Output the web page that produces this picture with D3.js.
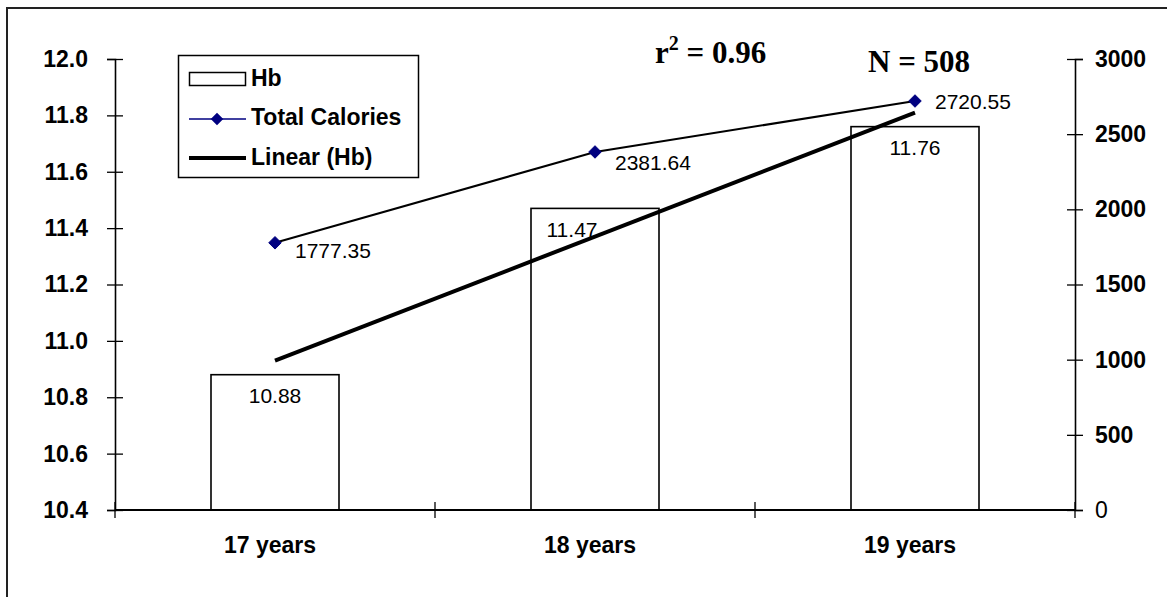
<!DOCTYPE html>
<html>
<head>
<meta charset="utf-8">
<script src="https://cdn.jsdelivr.net/npm/d3@7"></script>
<style>
  html, body { margin: 0; padding: 0; background: #fff; }
  svg { display: block; }
  text { font-family: "Liberation Sans", Arial, sans-serif; fill: #000; }
</style>
</head>
<body>
<svg id="chart" width="1167" height="597"></svg>
<script>
// Age groups and the two measured series
const categories = ["17 years", "18 years", "19 years"];
const hbValues = [10.88, 11.47, 11.76];
const calorieValues = [1777.35, 2381.64, 2720.55];

// Axis tick values and their labels
const hbTicks = [10.4, 10.6, 10.8, 11.0, 11.2, 11.4, 11.6, 11.8, 12.0];
const calTicks = [0, 500, 1000, 1500, 2000, 2500, 3000];

// Legend entries and annotations
const legendLabels = ["Hb", "Total Calories", "Linear (Hb)"];
const rSquaredText = "0.96";
const sampleSizeText = "N = 508";

const svg = d3.select("#chart");

// outer frame
svg.append("rect")
  .attr("x", 7).attr("y", 8).attr("width", 1180).attr("height", 620)
  .attr("fill", "none").attr("stroke", "#222").attr("stroke-width", 2);

const plot = { left: 115, right: 1075, top: 59, bottom: 510 };

const x = d3.scaleBand().domain(categories).range([plot.left, plot.right]);
const yHb = d3.scaleLinear().domain([10.4, 12.0]).range([plot.bottom, plot.top]);
const yCal = d3.scaleLinear().domain([0, 3000]).range([plot.bottom, plot.top]);
const barW = x.bandwidth() * 0.4;
const cx = c => x(c) + x.bandwidth() / 2;

// bars
svg.append("g").selectAll("rect")
  .data(categories)
  .join("rect")
  .attr("x", c => cx(c) - barW / 2)
  .attr("y", (c, i) => yHb(hbValues[i]))
  .attr("width", barW)
  .attr("height", (c, i) => plot.bottom - yHb(hbValues[i]))
  .attr("fill", "#fff").attr("stroke", "#000").attr("stroke-width", 1.6);

// bar value labels (second one is nudged left, clear of the trend line)
const barLabelDx = [0, -23, 0];
svg.append("g").selectAll("text")
  .data(categories)
  .join("text")
  .attr("x", (c, i) => cx(c) + barLabelDx[i])
  .attr("y", (c, i) => yHb(hbValues[i]) + 21)
  .attr("text-anchor", "middle").attr("dominant-baseline", "central")
  .style("font-size", "21px")
  .text((c, i) => hbValues[i].toFixed(2));

// least-squares trend of Hb across the three groups
const xs = categories.map((c, i) => i + 1);
const mx = d3.mean(xs), my = d3.mean(hbValues);
const slope = d3.sum(xs, (v, i) => (v - mx) * (hbValues[i] - my)) / d3.sum(xs, v => (v - mx) ** 2);
const intercept = my - slope * mx;
svg.append("line")
  .attr("x1", cx(categories[0])).attr("y1", yHb(intercept + slope * 1))
  .attr("x2", cx(categories[2])).attr("y2", yHb(intercept + slope * 3))
  .attr("stroke", "#000").attr("stroke-width", 4);

// calories line with markers
const calLine = d3.line().x((d, i) => cx(categories[i])).y(d => yCal(d));
svg.append("path")
  .datum(calorieValues)
  .attr("d", calLine)
  .attr("fill", "none").attr("stroke", "#000").attr("stroke-width", 2);

const diamond = d3.symbol().type(d3.symbolDiamond2).size(100);
svg.append("g").selectAll("path")
  .data(calorieValues)
  .join("path")
  .attr("d", diamond)
  .attr("transform", (d, i) => `translate(${cx(categories[i])},${yCal(d)})`)
  .attr("fill", "#000080").attr("stroke", "#000080").attr("stroke-width", 1);

const calLabelDy = [8, 11, 0];
svg.append("g").selectAll("text")
  .data(calorieValues)
  .join("text")
  .attr("x", (d, i) => cx(categories[i]) + 20)
  .attr("y", (d, i) => yCal(d) + calLabelDy[i])
  .attr("dominant-baseline", "central")
  .style("font-size", "21px")
  .text(d => d.toFixed(2));

// left axis (Hb)
const gl = svg.append("g").attr("transform", `translate(${plot.left},0)`)
  .call(d3.axisLeft(yHb).tickValues(hbTicks).tickFormat(d3.format(".1f")).tickSize(8).tickPadding(19));
gl.select(".domain").attr("stroke", "#000").attr("stroke-width", 1.6);
gl.selectAll(".tick line").attr("x1", 8).attr("stroke-width", 1.3);
gl.selectAll(".tick text")
  .style("font-family", "'Liberation Sans', Arial, sans-serif")
  .style("font-size", "23px").style("font-weight", "bold");

// right axis (calories)
const gr = svg.append("g").attr("transform", `translate(${plot.right},0)`)
  .call(d3.axisRight(yCal).tickValues(calTicks).tickFormat(d3.format("d")).tickSize(8).tickPadding(12));
gr.select(".domain").attr("stroke", "#000").attr("stroke-width", 1.6);
gr.selectAll(".tick line").attr("x1", -8).attr("stroke-width", 1.3);
gr.selectAll(".tick text")
  .style("font-family", "'Liberation Sans', Arial, sans-serif")
  .style("font-size", "23px")
  .style("font-weight", d => d === 0 ? "normal" : "bold");

// category axis
const gb = svg.append("g").attr("transform", `translate(0,${plot.bottom})`);
gb.append("line")
  .attr("x1", plot.left).attr("x2", plot.right)
  .attr("stroke", "#000").attr("stroke-width", 2);
const boundaries = categories.map(c => x(c)).concat([plot.right]);
gb.selectAll("line.tick")
  .data(boundaries)
  .join("line").attr("class", "tick")
  .attr("x1", d => d).attr("x2", d => d).attr("y1", -8).attr("y2", 8)
  .attr("stroke", "#000").attr("stroke-width", 1.3);
gb.selectAll("text")
  .data(categories)
  .join("text")
  .attr("x", c => cx(c) - 5).attr("y", 43)
  .attr("text-anchor", "middle")
  .style("font-size", "23px").style("font-weight", "bold")
  .text(c => c);

// annotations
const r2 = svg.append("text")
  .attr("x", 655).attr("y", 63)
  .style("font-family", "'Liberation Serif', 'Times New Roman', serif")
  .style("font-size", "31px").style("font-weight", "bold");
r2.append("tspan").text("r");
r2.append("tspan").attr("dy", -13).style("font-size", "20px").text("2");
r2.append("tspan").attr("dy", 13).text(" = " + rSquaredText);

svg.append("text")
  .attr("x", 868).attr("y", 72)
  .style("font-family", "'Liberation Serif', 'Times New Roman', serif")
  .style("font-size", "31px").style("font-weight", "bold")
  .text(sampleSizeText);

// legend
const lg = svg.append("g");
lg.append("rect")
  .attr("x", 178.5).attr("y", 55.5).attr("width", 240).attr("height", 122)
  .attr("fill", "#fff").attr("stroke", "#000").attr("stroke-width", 1.5);
const rowY = [78, 117, 157];
lg.append("rect")
  .attr("x", 189.5).attr("y", 72.5).attr("width", 56).attr("height", 13)
  .attr("fill", "#fff").attr("stroke", "#000").attr("stroke-width", 1.5);
lg.append("line")
  .attr("x1", 189).attr("x2", 246).attr("y1", 119).attr("y2", 119)
  .attr("stroke", "#000080").attr("stroke-width", 1.5);
lg.append("path").attr("d", diamond)
  .attr("transform", "translate(217,119)")
  .attr("fill", "#000080");
lg.append("line")
  .attr("x1", 189).attr("x2", 246).attr("y1", 158).attr("y2", 158)
  .attr("stroke", "#000").attr("stroke-width", 4);
lg.selectAll("text.lbl")
  .data(legendLabels)
  .join("text").attr("class", "lbl")
  .attr("x", 251).attr("y", (d, i) => rowY[i])
  .attr("dominant-baseline", "central")
  .style("font-size", "23px").style("font-weight", "bold")
  .text(d => d);
</script>
</body>
</html>
